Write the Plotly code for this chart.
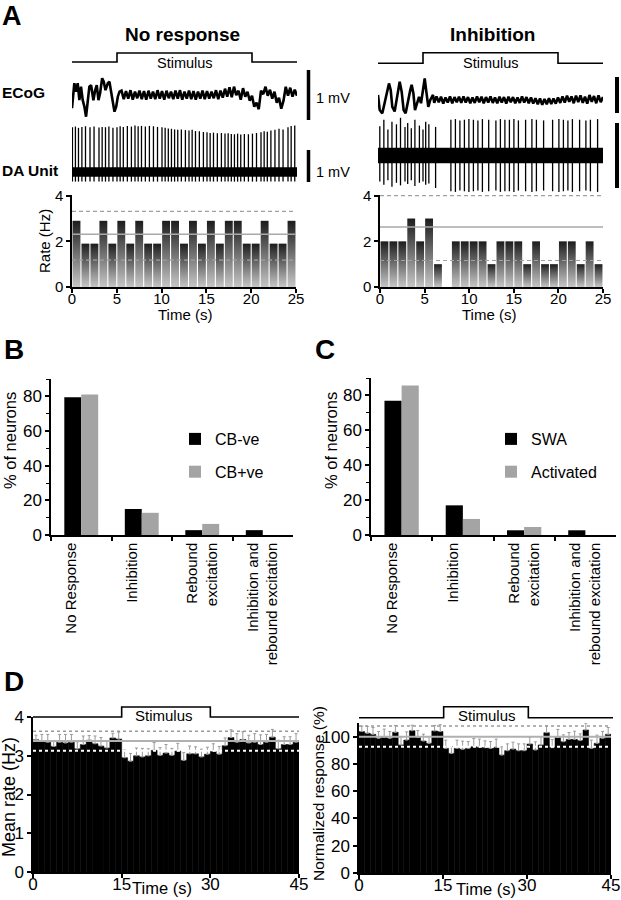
import plotly.graph_objects as go

W, H = 621, 900

# ======================= DATA =======================
# ---- Panel A : stimulus timing (s) ----
stim_t = [0, 5, 5, 20, 20, 25]
stim_on = [0, 0, 1, 1, 0, 0]

# ---- Panel A : ECoG traces (mV) ----
ecog_nr_early_t = [0, 0.26, 0.45, 0.63, 0.82, 1.0, 1.19, 1.38, 1.56, 1.75, 1.93, 2.12, 2.38, 2.57,
                   2.75, 2.94, 3.12, 3.35, 3.53, 3.72, 3.98, 4.16, 4.35, 4.54, 4.72, 4.91, 5.09, 5.28]
ecog_nr_early_mv = [-0.23, 0.27, 0.10, 0.27, -0.07, 0.20, -0.07, -0.20, -0.40, -0.07, 0.20, 0.23, -0.07, 0.13,
                    0.23, -0.07, 0.07, 0.37, 0.30, 0.13, 0.27, 0.30, 0.10, -0.07, -0.30, -0.20, 0.0, 0.10]
ecog_nr_late_start = 5.5
ecog_nr_late_mv = [0.12, -0.05, 0.11, -0.04, 0.13, -0.06, 0.10, -0.03, 0.12, -0.05, 0.11, -0.06, 0.12, -0.04,
                   0.10, -0.05, 0.13, -0.04, 0.11, -0.06, 0.12, -0.03, 0.10, -0.05, 0.12, -0.04, 0.13, -0.06,
                   0.10, -0.04, 0.12, -0.05, 0.11, -0.06, 0.10, -0.04, 0.12, -0.05, 0.11, -0.04, 0.10, -0.03,
                   0.13, -0.05, 0.12, -0.02, 0.16, 0.00, 0.19, -0.01, 0.20, 0.03, 0.12, -0.06, 0.17, 0.00,
                   0.10, -0.08, 0.02, -0.20, -0.12, -0.25, 0.12, 0.05, 0.20, 0.02, 0.14, -0.04, 0.10, -0.12,
                   -0.02, -0.24, -0.08, 0.20, 0.02, 0.18, 0.00, 0.14, 0.02]

ecog_inh_early_t = [0, 0.19, 0.48, 0.74, 1.0, 1.22, 1.41, 1.59, 1.85, 2.11, 2.41, 2.63, 2.85, 3.07,
                    3.33, 3.59, 3.74, 3.93, 4.11, 4.33, 4.56, 4.78, 5.0, 5.19, 5.37, 5.59, 5.81, 6.11]
ecog_inh_early_mv = [0.14, -0.28, -0.37, -0.09, 0.28, 0.46, 0.28, -0.19, -0.32, 0.09, 0.51, 0.23, -0.28, -0.37,
                     0.0, 0.28, 0.42, 0.19, -0.28, -0.09, 0.09, -0.09, 0.37, 0.60, 0.23, -0.19, 0.0, 0.14]
ecog_inh_late_start = 6.25
ecog_inh_late_mv = [-0.08, 0.10, -0.06, 0.09, -0.10, 0.07, -0.07, 0.10, -0.09, 0.08, -0.06, 0.09, -0.08, 0.10,
                    -0.07, 0.08, -0.09, 0.07, -0.08, 0.10, -0.06, 0.09, -0.09, 0.08, -0.07, 0.10, -0.08, 0.07,
                    -0.09, 0.09, -0.07, 0.08, -0.10, 0.09, -0.06, 0.08, -0.09, 0.07, -0.08, 0.10, -0.07, 0.08,
                    -0.09, 0.07, -0.10, 0.05, -0.12, 0.04, -0.13, 0.03, -0.12, 0.05, -0.11, 0.04, -0.10, 0.07,
                    -0.08, 0.10, -0.07, 0.12, -0.05, 0.10, -0.09, 0.12, -0.06, 0.13, -0.08, 0.09, -0.10, 0.14,
                    -0.05, 0.11, -0.09, 0.13, -0.06, 0.08]

# ---- Panel A : DA unit spikes (s, mV) ----
spk_nr_t = [0.05, 0.38, 0.72, 1.10, 1.50, 2.00, 2.45, 3.00, 3.35, 3.72, 4.10, 4.55, 5.00, 5.35, 5.70,
            6.15, 6.60, 7.00, 7.35, 7.72, 8.15, 8.60, 9.05, 9.50, 10.00, 10.35, 10.70, 11.05, 11.40, 11.75,
            12.15, 12.60, 13.00, 13.35, 13.72, 14.15, 14.60, 15.00, 15.35, 15.72, 16.15, 16.60, 17.00, 17.35,
            17.70, 18.05, 18.40, 18.75, 19.15, 19.60, 20.05, 20.50, 21.00, 21.35, 21.70, 22.10, 22.55, 23.00,
            23.45, 24.00, 24.35, 24.75]
spk_nr_top = [1.40, 1.42, 1.38, 1.41, 1.43, 1.40, 1.42, 1.39, 1.41, 1.40, 1.42, 1.38, 1.40, 1.43, 1.41,
              1.44, 1.42, 1.45, 1.43, 1.44, 1.42, 1.44, 1.43, 1.41, 1.40, 1.38, 1.36, 1.35, 1.33, 1.32,
              1.33, 1.31, 1.30, 1.32, 1.28, 1.27, 1.25, 1.24, 1.22, 1.23, 1.21, 1.22, 1.20, 1.21, 1.19,
              1.18, 1.20, 1.17, 1.19, 1.18, 1.20, 1.22, 1.24, 1.27, 1.26, 1.30, 1.32, 1.35, 1.33, 1.40,
              1.44, 1.45]
spk_nr_bottom = -0.30
noise_nr = 0.14

spk_inh_t = [0.20, 0.65, 1.10, 1.55, 2.05, 2.50, 3.00, 3.30, 3.70, 4.10, 4.60, 5.00, 5.30, 5.65, 6.40,
             8.10, 8.60, 9.10, 9.60, 10.10, 10.60, 11.10, 11.60, 12.30, 13.10, 13.60, 14.10, 14.60, 15.10,
             15.60, 16.40, 17.10, 17.60, 18.40, 19.40, 20.10, 20.60, 21.10, 21.60, 22.40, 23.10, 23.60, 24.40]
spk_inh_top = [0.45, 0.55, 0.40, 0.52, 0.48, 0.58, 0.44, 0.50, 0.42, 0.55, 0.46, 0.40, 0.52, 0.48, 0.44,
               0.55, 0.56, 0.54, 0.55, 0.56, 0.55, 0.54, 0.56, 0.55, 0.54, 0.56, 0.55, 0.55, 0.56,
               0.54, 0.55, 0.56, 0.55, 0.54, 0.55, 0.56, 0.55, 0.54, 0.56, 0.55, 0.54, 0.55, 0.56]
spk_inh_bottom = [-0.40, -0.45, -0.38, -0.48, -0.42, -0.46, -0.40, -0.44, -0.38, -0.47, -0.42, -0.40, -0.45, -0.43,
                  -0.50, -0.55, -0.56, -0.54, -0.55, -0.56, -0.55, -0.54, -0.56, -0.55, -0.54, -0.56, -0.55,
                  -0.55, -0.56, -0.54, -0.55, -0.56, -0.55, -0.54, -0.55, -0.56, -0.55, -0.54, -0.56, -0.55,
                  -0.54, -0.55, -0.56]
noise_inh = 0.115

# ---- Panel A : rate histograms (Hz, 1-s bins) ----
rate_nr = [2.9, 1.9, 1.9, 2.9, 1.9, 2.9, 1.9, 2.9, 1.9, 1.9, 2.9, 2.9, 1.9, 2.9, 1.9, 2.9, 1.9, 2.9, 2.9,
           1.9, 1.9, 2.9, 1.9, 1.9, 2.9]
rate_inh = [2, 2, 2, 3, 2, 3, 1, 0, 2, 2, 2, 2, 1, 2, 2, 2, 1, 2, 1, 1, 2, 2, 1, 2, 1]
rate_nr_mean, rate_nr_hi, rate_nr_lo = 2.31, 3.31, 1.18
rate_inh_mean, rate_inh_hi, rate_inh_lo = 2.63, 4.0, 1.16
scale_mv = 1.0

# ---- Panels B / C ----
categories = ["No Response<br>\u00a0", "Inhibition<br>\u00a0", "Rebound<br>excitation",
              "Inhibition and<br>rebound excitation"]
cb_neg = [79.5, 15.0, 2.8, 2.8]
cb_pos = [81.0, 12.8, 6.4, 0.0]
swa = [77.0, 17.0, 2.7, 2.7]
activated = [85.7, 9.2, 4.6, 0.0]

# ---- Panel D ----
stimD_t = [0, 15, 15, 30, 30, 45]
stimD_on = [0, 0, 1, 1, 0, 0]
mean_rate = [3.41, 3.37, 3.35, 3.24, 3.35, 3.33, 3.35, 3.18, 3.29, 3.40, 3.31, 3.25, 3.20, 3.46, 3.43,
             2.95, 2.86, 3.00, 2.97, 3.00, 3.14, 3.01, 3.07, 3.01, 3.12, 2.88, 3.05, 3.05, 2.97, 3.04,
             3.11, 3.04, 3.26, 3.47, 3.35, 3.42, 3.33, 3.35, 3.29, 3.35, 3.48, 3.18, 3.29, 3.29, 3.35]
mean_rate_err = [0.12, 0.18, 0.2, 0.15, 0.2, 0.22, 0.2, 0.18, 0.22, 0.12, 0.2, 0.22, 0.18, 0.12, 0.18,
                 0.2, 0.2, 0.2, 0.22, 0.18, 0.2, 0.2, 0.22, 0.18, 0.2, 0.2, 0.2, 0.18, 0.2, 0.18,
                 0.2, 0.2, 0.2, 0.2, 0.22, 0.2, 0.2, 0.22, 0.25, 0.2, 0.2, 0.22, 0.2, 0.2, 0.22]
mean_rate_lines = [3.38, 3.63, 3.13]
norm_resp = [103.7, 102.5, 101.7, 98.8, 99.5, 98.8, 103.2, 93.9, 97.5, 104.4, 99.5, 96.8, 95.1, 104.2, 103.7,
             91.4, 87.7, 91.4, 90.7, 91.4, 92.6, 92.2, 91.9, 91.4, 92.2, 86.5, 89.7, 90.9, 89.7, 89.7,
             94.6, 90.2, 93.9, 102.9, 91.9, 99.3, 96.3, 98.0, 98.0, 97.1, 104.9, 91.4, 95.1, 98.8, 101.7]
norm_err = [4, 5, 5, 5, 6, 5, 5, 6, 6, 4, 5, 5, 5, 4, 5, 6, 5, 6, 6, 5, 6, 6, 5, 5, 6,
            6, 5, 5, 5, 5, 5, 6, 6, 5, 6, 6, 5, 5, 6, 5, 5, 6, 6, 5, 5]
norm_lines = [100, 107.8, 92.6]

# ======================= HELPERS =======================
FONT = "Liberation Sans"


def xd(a, b):
    return [a / W, b / W]


def yd(top, bottom):
    return [1 - bottom / H, 1 - top / H]


fig = go.Figure()


def add(tr):
    fig.add_trace(tr)


def stim_trace(t, on, ax):
    add(go.Scatter(x=t, y=on, mode="lines", line=dict(color="black", width=1.6),
                   xaxis="x" + ax, yaxis="y" + ax, hoverinfo="skip", showlegend=False))


def ecog_trace(t_e, v_e, start, v_l, ax):
    t = list(t_e) + [start + 0.25 * i for i in range(len(v_l))]
    v = list(v_e) + list(v_l)
    add(go.Scatter(x=t, y=v, mode="lines", line=dict(color="black", width=2.6),
                   xaxis="x" + ax, yaxis="y" + ax, hoverinfo="skip", showlegend=False))


def da_trace(times, tops, bottoms, noise, tmax, ax):
    if not isinstance(bottoms, list):
        bottoms = [bottoms] * len(times)
    add(go.Scatter(x=[0, tmax, tmax, 0, 0], y=[-noise, -noise, noise, noise, -noise], mode="lines",
                   fill="toself", fillcolor="black", line=dict(width=0.5, color="black"),
                   xaxis="x" + ax, yaxis="y" + ax, hoverinfo="skip", showlegend=False))
    xs, ys = [], []
    for t, tp, bt in zip(times, tops, bottoms):
        xs += [t, t, None]
        ys += [bt, tp, None]
    add(go.Scatter(x=xs, y=ys, mode="lines", line=dict(color="black", width=1.3),
                   xaxis="x" + ax, yaxis="y" + ax, hoverinfo="skip", showlegend=False))


def rate_hist(vals, mean, hi, lo, ax):
    for i, v in enumerate(vals):
        if v <= 0:
            continue
        x0, x1 = i + 0.06, i + 0.94
        add(go.Scatter(x=[x0, x0, x1, x1, x0], y=[0, v, v, 0, 0], mode="lines", fill="toself",
                       line=dict(width=0, color="rgba(0,0,0,0)"),
                       fillgradient=dict(type="vertical", start=0, stop=v,
                                         colorscale=[[0, "#c6c6c6"], [1, "#1c1c1c"]]),
                       xaxis="x" + ax, yaxis="y" + ax, hoverinfo="skip", showlegend=False))
    n = len(vals)
    add(go.Scatter(x=[0, n], y=[mean, mean], mode="lines", line=dict(color="#a9a9a9", width=1.6),
                   xaxis="x" + ax, yaxis="y" + ax, hoverinfo="skip", showlegend=False))
    for lv in (hi, lo):
        add(go.Scatter(x=[0, n], y=[lv, lv], mode="lines",
                       line=dict(color="#a0a0a0", width=1.2, dash="4px,3px"),
                       xaxis="x" + ax, yaxis="y" + ax, hoverinfo="skip", showlegend=False))


def d_hist(vals, err, lines, ax):
    centers = [i + 0.5 for i in range(len(vals))]
    add(go.Bar(x=centers, y=vals, width=1, marker=dict(color="black", line=dict(color="black", width=0.5)),
               error_y=dict(type="data", array=err, arrayminus=[0] * len(err), symmetric=False,
                            color="#9a9a9a", thickness=1, width=1.5),
               xaxis="x" + ax, yaxis="y" + ax, hoverinfo="skip", showlegend=False))
    n = len(vals)
    add(go.Scatter(x=[0, n], y=[lines[0]] * 2, mode="lines", line=dict(color="#b0b0b0", width=2),
                   xaxis="x" + ax, yaxis="y" + ax, hoverinfo="skip", showlegend=False))
    add(go.Scatter(x=[0, n], y=[lines[1]] * 2, mode="lines", line=dict(color="#9a9a9a", width=1.5, dash="dot"),
                   xaxis="x" + ax, yaxis="y" + ax, hoverinfo="skip", showlegend=False))
    add(go.Scatter(x=[0, n], y=[lines[2]] * 2, mode="lines", line=dict(color="white", width=2, dash="dot"),
                   xaxis="x" + ax, yaxis="y" + ax, hoverinfo="skip", showlegend=False))


# ======================= TRACES =======================
# A left (No response)
stim_trace(stim_t, stim_on, "")
ecog_trace(ecog_nr_early_t, ecog_nr_early_mv, ecog_nr_late_start, ecog_nr_late_mv, "2")
da_trace(spk_nr_t, spk_nr_top, spk_nr_bottom, noise_nr, 25, "3")
rate_hist(rate_nr, rate_nr_mean, rate_nr_hi, rate_nr_lo, "4")
# A right (Inhibition)
stim_trace(stim_t, stim_on, "5")
ecog_trace(ecog_inh_early_t, ecog_inh_early_mv, ecog_inh_late_start, ecog_inh_late_mv, "6")
da_trace(spk_inh_t, spk_inh_top, spk_inh_bottom, noise_inh, 25, "7")
rate_hist(rate_inh, rate_inh_mean, rate_inh_hi, rate_inh_lo, "8")

# B
add(go.Bar(x=categories, y=cb_neg, width=0.28, offset=-0.28, name="CB-ve", marker=dict(color="black"),
           xaxis="x9", yaxis="y9", legend="legend", legendgroup="b1"))
add(go.Bar(x=categories, y=cb_pos, width=0.28, offset=0.0, name="CB+ve", marker=dict(color="#a4a4a4"),
           xaxis="x9", yaxis="y9", legend="legend", legendgroup="b2"))
# C
add(go.Bar(x=categories, y=swa, width=0.28, offset=-0.28, name="SWA", marker=dict(color="black"),
           xaxis="x10", yaxis="y10", legend="legend2", legendgroup="c1"))
add(go.Bar(x=categories, y=activated, width=0.28, offset=0.0, name="Activated", marker=dict(color="#a4a4a4"),
           xaxis="x10", yaxis="y10", legend="legend2", legendgroup="c2"))

# D
d_hist(mean_rate, mean_rate_err, mean_rate_lines, "11")
stim_trace(stimD_t, stimD_on, "12")
d_hist(norm_resp, norm_err, norm_lines, "13")
stim_trace(stimD_t, stimD_on, "14")

# ======================= LAYOUT =======================
base = dict(showgrid=False, zeroline=False, fixedrange=True, automargin=False)
hid = dict(base, visible=False)
vis = dict(base, showline=True, linecolor="black", linewidth=1.5, ticks="outside", ticklen=4,
           tickwidth=1.5, tickcolor="black", ticklabeloverflow="allow",
           tickfont=dict(size=15, family=FONT, color="black"))


def merge(*ds, **kw):
    out = {}
    for d in ds:
        out.update(d)
    out.update(kw)
    return out


legend_style = dict(xanchor="left", yanchor="top", font=dict(size=16, family=FONT, color="black"),
                    bgcolor="rgba(0,0,0,0)", tracegroupgap=9, traceorder="grouped",
                    itemclick=False, itemdoubleclick=False)

layout = dict(
    template="none",
    width=W, height=H, margin=dict(l=0, r=0, t=0, b=0, pad=0, autoexpand=False),
    paper_bgcolor="white", plot_bgcolor="rgba(0,0,0,0)",
    font=dict(family=FONT, color="black"),
    barmode="overlay", showlegend=True,
    # A left
    xaxis=merge(hid, domain=xd(72, 297), range=[0, 25], anchor="y"),
    yaxis=merge(hid, domain=yd(50, 65), range=[-0.333, 1.333], anchor="x"),
    xaxis2=merge(hid, domain=xd(72, 297), range=[0, 25], anchor="y2"),
    yaxis2=merge(hid, domain=yd(70, 122), range=[-0.506, 0.534], anchor="x2"),
    xaxis3=merge(hid, domain=xd(72, 297), range=[0, 25], anchor="y3"),
    yaxis3=merge(hid, domain=yd(122, 188), range=[-0.5, 1.5625], anchor="x3"),
    xaxis4=merge(vis, domain=xd(72, 296), range=[0, 25], tickvals=[0, 5, 10, 15, 20, 25],
                 ticklabelstandoff=-7, anchor="y4"),
    yaxis4=merge(vis, domain=yd(195, 287), range=[0, 4.03], tickvals=[0, 2, 4], anchor="x4"),
    # A right
    xaxis5=merge(hid, domain=xd(378, 603), range=[0, 25], anchor="y5"),
    yaxis5=merge(hid, domain=yd(50, 66), range=[-0.255, 1.255], anchor="x5"),
    xaxis6=merge(hid, domain=xd(378, 603), range=[0, 25], anchor="y6"),
    yaxis6=merge(hid, domain=yd(70, 122), range=[-0.611, 0.833], anchor="x6"),
    xaxis7=merge(hid, domain=xd(378, 603), range=[0, 25], anchor="y7"),
    yaxis7=merge(hid, domain=yd(112, 196), range=[-0.623, 0.669], anchor="x7"),
    xaxis8=merge(vis, domain=xd(380, 603), range=[0, 25], tickvals=[0, 5, 10, 15, 20, 25],
                 ticklabelstandoff=-7, anchor="y8"),
    yaxis8=merge(vis, domain=yd(195, 287), range=[0, 4.03], tickvals=[0, 2, 4], anchor="x8"),
    # B
    xaxis9=merge(vis, domain=xd(51, 293), type="category", range=[-0.5, 3.5], tickson="boundaries",
                 tickangle=-90, tickfont=dict(size=15, family=FONT, color="black"), anchor="y9"),
    yaxis9=merge(vis, domain=yd(379, 535), range=[0, 90], tickvals=[0, 20, 40, 60, 80],
                 tickfont=dict(size=17, family=FONT, color="black"),
                 minor=dict(dtick=10, ticks="outside", ticklen=3, tickcolor="black", tickwidth=1.2),
                 anchor="x9"),
    # C
    xaxis10=merge(vis, domain=xd(371, 616), type="category", range=[-0.5, 3.5], tickson="boundaries",
                  tickangle=-90, tickfont=dict(size=15, family=FONT, color="black"), anchor="y10"),
    yaxis10=merge(vis, domain=yd(378, 535), range=[0, 90], tickvals=[0, 20, 40, 60, 80],
                  tickfont=dict(size=17, family=FONT, color="black"),
                  minor=dict(dtick=10, ticks="outside", ticklen=3, tickcolor="black", tickwidth=1.2),
                  anchor="x10"),
    # D left
    xaxis11=merge(vis, domain=xd(33, 299), range=[0, 45], tickvals=[0, 15, 30, 45],
                  tickfont=dict(size=17, family=FONT, color="black"), ticklabelstandoff=-8, anchor="y11"),
    yaxis11=merge(vis, domain=yd(717, 872), range=[0, 4], tickvals=[0, 1, 2, 3, 4],
                  tickfont=dict(size=17, family=FONT, color="black"), anchor="x11"),
    xaxis12=merge(hid, domain=xd(33, 299), range=[0, 45], anchor="y12"),
    yaxis12=merge(hid, domain=yd(700, 722), range=[-0.5, 1.7], anchor="x12"),
    # D right
    xaxis13=merge(vis, domain=xd(359, 611), range=[0, 45], tickvals=[0, 15, 30, 45],
                  tickfont=dict(size=17, family=FONT, color="black"), ticklabelstandoff=-8, anchor="y13"),
    yaxis13=merge(vis, domain=yd(723, 873), range=[0, 110], tickvals=[0, 20, 40, 60, 80, 100],
                  tickfont=dict(size=17, family=FONT, color="black"), anchor="x13"),
    xaxis14=merge(hid, domain=xd(359, 613), range=[0, 45], anchor="y14"),
    yaxis14=merge(hid, domain=yd(700, 722), range=[-0.39, 1.61], anchor="x14"),
    legend=merge(legend_style, x=175 / W, y=1 - 422 / H),
    legend2=merge(legend_style, x=491 / W, y=1 - 422 / H),
)
fig.update_layout(**layout)


# scale bars (1 mV) drawn in each trace's own mV scale
def scalebar(xpx, yref, base_mv, width):
    fig.add_shape(type="line", xref="paper", yref=yref, x0=xpx / W, x1=xpx / W,
                  y0=base_mv, y1=base_mv + scale_mv, line=dict(color="black", width=width))


scalebar(308.5, "y2", -0.466, 3.5)
scalebar(308.5, "y3", -0.3125, 3.5)
scalebar(617, "y6", -0.361, 4)
scalebar(617, "y7", -0.5, 4)


def ann(text, x, y, size, bold=False, angle=0, xanchor="center"):
    fig.add_annotation(text=f"<b>{text}</b>" if bold else text, x=x / W, y=1 - y / H,
                       xref="paper", yref="paper", showarrow=False, textangle=angle,
                       xanchor=xanchor, yanchor="middle",
                       font=dict(size=size, family=FONT, color="black"))


ann("A", 0, 16, 27, bold=True, xanchor="left")
ann("No response", 182, 34, 19, bold=True)
ann("Inhibition", 492, 34, 19, bold=True)
ann("Stimulus", 185, 63, 14.5)
ann("Stimulus", 491, 63, 14.5)
ann("ECoG", 0, 92.5, 15.5, bold=True, xanchor="left")
ann("DA Unit", 0, 170, 15.5, bold=True, xanchor="left")
ann("1 mV", 314, 98, 14.5, xanchor="left")
ann("1 mV", 314, 172, 14.5, xanchor="left")
ann("Rate (Hz)", 44, 241, 15, angle=-90)
ann("Time (s)", 185, 314, 15)
ann("Time (s)", 489, 314, 15)
ann("B", 2, 350, 28, bold=True, xanchor="left")
ann("C", 313, 350, 28, bold=True, xanchor="left")
ann("% of neurons", 10, 441, 16.5, angle=-90)
ann("% of neurons", 331, 441, 16.5, angle=-90)
ann("D", 2, 681, 28, bold=True, xanchor="left")
ann("Stimulus", 164, 715, 15)
ann("Stimulus", 487, 715, 15)
ann("Mean rate (Hz)", 9, 797, 18, angle=-90)
ann("Normalized response (%)", 318, 794, 15.5, angle=-90)
ann("Time (s)", 162, 888, 16.5)
ann("Time (s)", 486, 889, 16.5)

# the page's default body margin would shift the fixed-size figure; remove it
fig.write_html("out.html", config={"displayModeBar": False},
               post_script="document.body.style.margin='0px';")
